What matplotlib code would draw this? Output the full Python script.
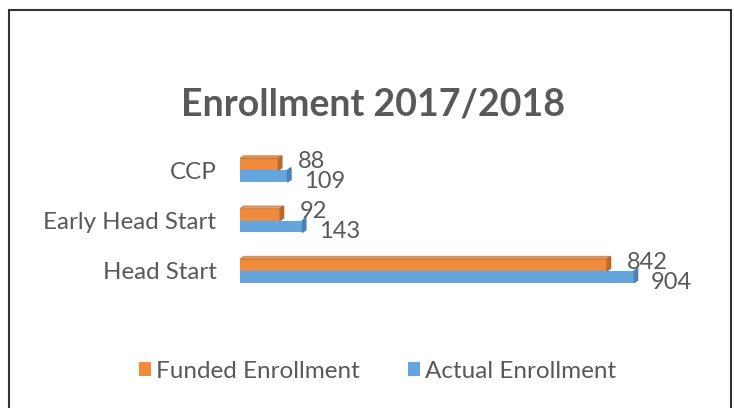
import matplotlib
matplotlib.use("Agg")
import matplotlib.pyplot as plt
from matplotlib.patches import Polygon, Rectangle

plt.rcParams['font.family'] = ['Lato', 'DejaVu Sans']

categories = ['Head Start', 'Early Head Start', 'CCP']
funded = [842, 92, 88]
actual = [904, 143, 109]
series_names = ['Funded Enrollment', 'Actual Enrollment']
title = 'Enrollment 2017/2018'

orange = '#F18B3B'
blue = '#65A5DD'
orange_dark = '#B86A2C'
blue_dark = '#4A82B5'
text_grey = '#595959'

fig = plt.figure(figsize=(7.34, 4.08), dpi=100)
ax = fig.add_axes([0.327, 0.2745, 0.594, 0.3701])

h = 0.235
ys = list(range(len(categories)))
ax.barh([y + h / 2 for y in ys], funded, height=h, color=orange, label=series_names[0], zorder=2)
ax.barh([y - h / 2 for y in ys], actual, height=h, color=blue, label=series_names[1], zorder=2)

ax.set_xlim(0, 1000)
ax.set_ylim(-0.5, 2.5)

# fake 3d depth: thin darker side/top face on each bar
dx, dy = 8, 0.05
for y in ys:
    for v, yc, dark in ((funded[y], y + h / 2, orange_dark), (actual[y], y - h / 2, blue_dark)):
        y0, y1 = yc - h / 2, yc + h / 2
        ax.add_patch(Polygon([(v, y0), (v + dx, y0 + dy), (v + dx, y1 + dy), (v, y1)],
                             closed=True, color=dark, zorder=3))
    ax.add_patch(Polygon([(0, y + h), (dx, y + h + dy), (funded[y] + dx, y + h + dy), (funded[y], y + h)],
                         closed=True, color=orange_dark, alpha=0.6, zorder=3))

for y in ys:
    ax.annotate(str(funded[y]), (funded[y], y + h / 2), xytext=(14, 2), textcoords='offset points',
                ha='left', va='center', fontsize=17, color=text_grey)
    ax.annotate(str(actual[y]), (actual[y], y - h / 2), xytext=(12, -4), textcoords='offset points',
                ha='left', va='center', fontsize=17, color=text_grey)

ax.set_yticks(ys)
ax.set_yticklabels(categories, fontsize=17.4, color=text_grey)
ax.set_xticks([])
ax.tick_params(axis='y', length=0, pad=17)
for s in ax.spines.values():
    s.set_visible(False)

fig.text(0.508, 0.745, title, ha='center', va='center', fontsize=27, fontweight='bold', color=text_grey)

leg = fig.legend(loc='center', bbox_to_anchor=(0.514, 0.09), ncol=2, frameon=False, fontsize=17.5,
                 handlelength=0.5, handleheight=0.5, handletextpad=0.2, columnspacing=2.0)
for t in leg.get_texts():
    t.set_color(text_grey)

fig.add_artist(Rectangle((9 / 734, -0.05), 722 / 734, 1.05 - 10 / 408, transform=fig.transFigure,
                         fill=False, edgecolor='#333333', linewidth=1.5))

fig.savefig('out.png', dpi=100)
